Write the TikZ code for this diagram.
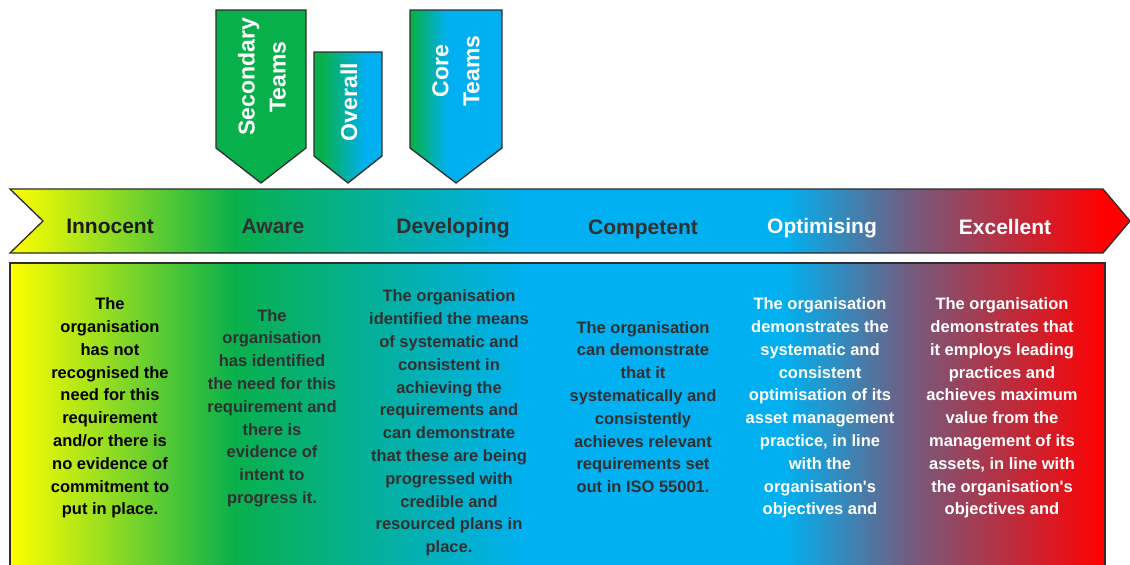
\documentclass[tikz,border=0pt]{standalone}
\usepackage{fontspec}
\setmainfont{Liberation Sans}[Ligatures=TeXOff]
\definecolor{cYel}{RGB}{255,255,0}
\definecolor{cGrn}{RGB}{8,176,76}
\definecolor{cBlu}{RGB}{0,176,240}
\definecolor{cPur}{RGB}{112,94,130}
\definecolor{cRed}{RGB}{255,0,0}
\definecolor{cEdge}{RGB}{45,45,45}
\definecolor{cDark}{RGB}{48,48,48}
% horizontal colour spectrum, yellow -> green -> blue -> red
\newcommand{\spectrumfill}{%
  \fill[cYel] (-5,-5) rectangle (10.5,600);
  \shade[left color=cYel,right color=cGrn] (10,-5) rectangle (235.5,600);
  \shade[left color=cGrn,right color=cBlu] (235,-5) rectangle (525.5,600);
  \fill[cBlu] (525,-5) rectangle (785.5,600);
  \shade[left color=cBlu,right color=cPur] (785,-5) rectangle (905.5,600);
  \shade[left color=cPur,right color=cRed] (905,-5) rectangle (1105.5,600);
  \fill[cRed] (1105,-5) rectangle (1140,600);}
\begin{document}
\begin{tikzpicture}[x=1pt,y=-1pt,
  edge/.style={draw=cEdge,line width=1.3pt,line join=miter},
  stage/.style={font=\bfseries\fontsize{21}{25}\selectfont,anchor=base},
  desc/.style={font=\bfseries\fontsize{16.5}{22.8}\selectfont,align=center,inner sep=0pt},
  team/.style={font=\bfseries\fontsize{23}{31}\selectfont,align=center,text=white,rotate=90,inner sep=0pt}]
\useasboundingbox (0,0) rectangle (1130,565);

% team markers
\draw[edge,fill=cGrn] (216,10) -- (306,10) -- (306,148) -- (261,183) -- (216,148) -- cycle;
\draw[edge,path picture={
    \fill[cGrn] (300,0) rectangle (322.5,200);
    \shade[left color=cGrn,right color=cBlu] (322,0) rectangle (365,200);
    \fill[cBlu] (364.5,0) rectangle (400,200);}]
  (314,52) -- (382,52) -- (382,156) -- (348,183) -- (314,156) -- cycle;
\draw[edge,path picture={
    \fill[cGrn] (400,0) rectangle (412.5,200);
    \shade[left color=cGrn,right color=cBlu] (412,0) rectangle (447,200);
    \fill[cBlu] (446.5,0) rectangle (520,200);}]
  (410,10) -- (502,10) -- (502,148) -- (456,183) -- (410,148) -- cycle;

\node[team] (secondary) at (262,77) {Secondary\\Teams};
\node[team] (overall) at (349,102) {Overall};
\node[team] (core) at (456,71) {Core\\Teams};

% maturity band
\draw[edge,path picture={\spectrumfill}]
  (10,189) -- (1103,189) -- (1130,221) -- (1103,253) -- (10,253) -- (43,221) -- cycle;

\node[stage,text=black!90] (innocent) at (110,233.5) {Innocent};
\node[stage,text=cDark] (aware) at (273,233.5) {Aware};
\node[stage,text=cDark] (developing) at (453,233.5) {Developing};
\node[stage,text=cDark] (competent) at (643,234) {Competent};
\node[stage,text=white] (optimising) at (822,233) {Optimising};
\node[stage,text=white] (excellent) at (1005,234) {Excellent};

% descriptions
\draw[edge,path picture={\spectrumfill}] (10,263) rectangle (1105,580);

\node[desc,text=black] (d1) at (110,408) {The\\organisation\\has not\\recognised the\\need for this\\requirement\\and/or there is\\no evidence of\\commitment to\\put in place.};
\node[desc,text=cDark] (d2) at (272,408) {The\\organisation\\has identified\\the need for this\\requirement and\\there is\\evidence of\\intent to\\progress it.};
\node[desc,text=cDark] (d3) at (449,423) {The organisation\\identified the means\\of systematic and\\consistent in\\achieving the\\requirements and\\can demonstrate\\that these are being\\progressed with\\credible and\\resourced plans in\\place.};
\node[desc,text=cDark] (d4) at (643,407) {The organisation\\can demonstrate\\that it\\systematically and\\consistently\\achieves relevant\\requirements set\\out in ISO 55001.};
\node[desc,text=white] (d5) at (820,408) {The organisation\\demonstrates the\\systematic and\\consistent\\optimisation of its\\asset management\\practice, in line\\with the\\organisation's\\objectives and};
\node[desc,text=white] (d6) at (1002,408) {The organisation\\demonstrates that\\it employs leading\\practices and\\achieves maximum\\value from the\\management of its\\assets, in line with\\the organisation's\\objectives and};
\end{tikzpicture}
\end{document}
